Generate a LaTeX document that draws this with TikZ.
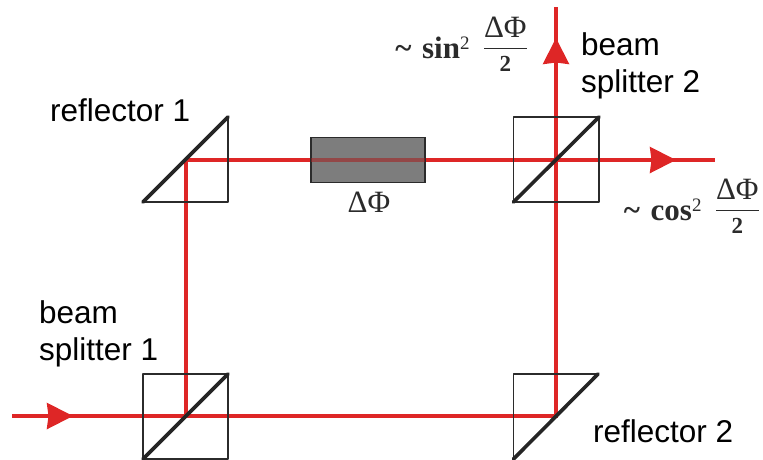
\documentclass[tikz,border=0pt]{standalone}
\usepackage{fontspec}
\setmainfont{Liberation Sans}
\newfontfamily\formfont{Liberation Serif}
\usetikzlibrary{arrows.meta}
\definecolor{beamred}{HTML}{DE2626}
\definecolor{inkdark}{HTML}{2B2B2B}
\newcommand{\phasefrac}{\raisebox{4.5pt}{\ensuremath{\displaystyle\frac{\mbox{\formfont ΔΦ}}{\mbox{\formfont\bfseries\fontsize{23}{25}\selectfont 2}}}}}
\newcommand{\sqmark}{$^{\mbox{\fontsize{19}{20}\selectfont 2}}$}
\tikzset{
 beam/.style={draw=beamred,line width=3.4pt},
 beamtip/.style={beam,-{Stealth[length=26pt,width=26pt,inset=1.5pt,fill=beamred]},shorten >=0pt},
 frame/.style={draw=inkdark,line width=1.9pt,line join=round},
 mirror/.style={draw=inkdark!85!black,line width=3.6pt,line cap=round},
 label/.style={font=\fontsize{31.5}{37}\selectfont,align=left,inner sep=0pt,text=black},
 formula/.style={font=\formfont\fontsize{31}{34}\selectfont,inner sep=0pt,text=inkdark},
}
\begin{document}
\begin{tikzpicture}[x=1pt,y=-1pt]
\useasboundingbox (0,0) rectangle (763,459);
% beam path points
\coordinate (in) at (12,416);
\coordinate (inhead) at (73,416);
\coordinate (bsa) at (186,416);
\coordinate (rb) at (556,416);
\coordinate (ra) at (186,160);
\coordinate (bsb) at (556,160);
\coordinate (outr) at (715,160);
\coordinate (outrhead) at (676,160);
\coordinate (outu) at (556,7);
\coordinate (outuhead) at (556,38);
% beams
\draw[beam] (in) -- (rb) -- (outu);
\draw[beam] (bsa) -- (ra) -- (outr);
\draw[beamtip] (in) -- (inhead);
\draw[beamtip] (bsb) -- (outrhead);
\draw[beamtip] (rb) -- (outuhead);
% phase element
\node[draw=inkdark,fill=gray!98!black,line width=1.9pt,minimum width=114pt,minimum height=45pt,inner sep=0pt,outer sep=0pt] (phase) at (368.3,160) {};
\draw[draw=beamred!75!black,line width=3.4pt,opacity=.55] (phase.west) -- (phase.east);
\node[formula] (phaselabel) at (369,202) {ΔΦ};
% optics
\draw[frame] (143,374) rectangle (228,459);
\draw[mirror] (143,459) -- (228,374);
\draw[frame] (513.5,117) rectangle (599,202);
\draw[mirror] (513.5,202) -- (599,117);
\draw[frame] (228,117) -- (228,202) -- (143,202);
\draw[mirror] (143,202) -- (228,117);
\draw[frame] (598,374) -- (513.5,374) -- (513.5,459);
\draw[mirror] (513.5,459) -- (598,374);
% labels
\node[label,anchor=west] (r1) at (50,110) {reflector 1};
\node[label,anchor=west] (r2) at (593,431) {reflector 2};
\node[label,anchor=west] (b1) at (39,334) {beam\\splitter 1};
\node[label,anchor=west] (b2) at (581,66) {beam\\splitter 2};
\node[formula,anchor=east] (fs) at (528,44) {\textbf{\textasciitilde{}\hspace{3pt} sin}\sqmark\hspace{5pt} \phasefrac};
\node[formula,anchor=east] (fc) at (760,206) {\textbf{\textasciitilde{}\hspace{3pt} cos}\sqmark\hspace{5pt} \phasefrac};
\end{tikzpicture}
\end{document}
